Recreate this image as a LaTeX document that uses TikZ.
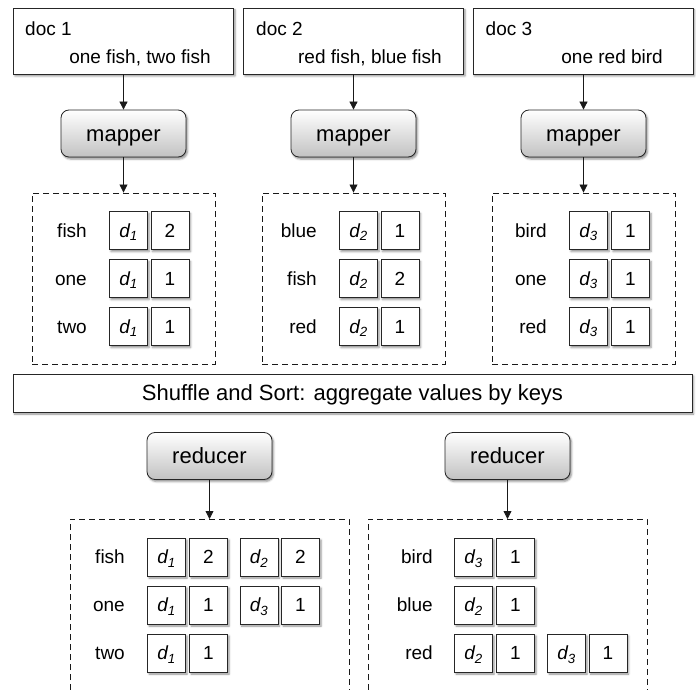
\documentclass[tikz,border=0pt]{standalone}
\usepackage{fontspec}
\setmainfont{Liberation Sans}
\usetikzlibrary{arrows.meta,shadows.blur}

\begin{document}
\begin{tikzpicture}[x=1pt,y=-1pt]
\tikzset{
	sh/.style={blur shadow={shadow xshift=1.5pt, shadow yshift=-2pt, shadow blur radius=2pt, shadow opacity=45}},
	txt/.style={inner sep=0pt, text height=13.7pt, text depth=0pt, font=\fontsize{19}{22}\selectfont},
	docbox/.style={draw=black!85, fill=white, line width=0.8pt, minimum width=220pt, minimum height=66pt, sh},
	worker/.style={draw=black!85, line width=0.8pt, rounded corners=8pt, top color=white, bottom color=black!24, minimum width=125pt, minimum height=47pt, text height=15.9pt, text depth=0pt, font=\fontsize{22}{26}\selectfont, sh},
	dbox/.style={draw=black!90, line width=0.9pt, dash pattern=on 6pt off 4pt},
	cell/.style={draw=black!85, fill=white, line width=0.8pt, minimum size=38pt, inner sep=0pt, text height=13.7pt, text depth=0pt, font=\fontsize{19}{22}\selectfont, sh},
	lab/.style={txt, anchor=east},
	arr/.style={-{Triangle[length=8pt,width=8pt]}, line width=0.8pt, black!90}
}
\useasboundingbox (0,0) rectangle (696,690);

% docs
\node[docbox] (doc_1) at (123.5,41) {};
\node[docbox] (doc_2) at (353.5,41) {};
\node[docbox] (doc_3) at (583,41) {};
\node[txt, anchor=west] (doc_1t) at (25,28.5) {doc 1};
\node[txt, anchor=east] (doc_1c) at (211,56.5) {one fish, two fish};
\node[txt, anchor=west] (doc_2t) at (256,28.5) {doc 2};
\node[txt, anchor=east] (doc_2c) at (442,56.5) {red fish, blue fish};
\node[txt, anchor=west] (doc_3t) at (485.5,28.5) {doc 3};
\node[txt, anchor=east] (doc_3c) at (663,56.5) {one red bird};

% mapper
\node[worker] (map_1) at (123.5,133.5) {mapper};
\node[worker] (map_2) at (353.5,133.5) {mapper};
\node[worker] (map_3) at (583.5,133.5) {mapper};

% mapper output
\node[dbox, minimum width=183pt, minimum height=171pt] (box_1) at (123.5,278.5) {};
\node[dbox, minimum width=183pt, minimum height=171pt] (box_2) at (353.5,278.5) {};
\node[dbox, minimum width=183pt, minimum height=171pt] (box_3) at (583.5,278.5) {};

\draw[arr] (doc_1) -- (map_1);
\draw[arr] (doc_2) -- (map_2);
\draw[arr] (doc_3.south -| map_3) -- (map_3);
\draw[arr] (map_1) -- (box_1);
\draw[arr] (map_2) -- (box_2);
\draw[arr] (map_3) -- (box_3);

% doc 1 -> (k, d, v)
\node[lab] (m1_1k) at (87,230.5) {fish};
\node[cell] (m1_1d) at (128.5,230.5) {\itshape d\textsubscript{1}};
\node[cell] (m1_1v) at (170,230.5) {2};
\node[lab] (m1_2k) at (87,278.5) {one};
\node[cell] (m1_2d) at (128.5,278.5) {\itshape d\textsubscript{1}};
\node[cell] (m1_2v) at (170,278.5) {1};
\node[lab] (m1_3k) at (87,326.5) {two};
\node[cell] (m1_3d) at (128.5,326.5) {\itshape d\textsubscript{1}};
\node[cell] (m1_3v) at (170,326.5) {1};

% doc 2 -> (k, d, v)
\node[lab] (m2_1k) at (317,230.5) {blue};
\node[cell] (m2_1d) at (358.5,230.5) {\itshape d\textsubscript{2}};
\node[cell] (m2_1v) at (400,230.5) {1};
\node[lab] (m2_2k) at (317,278.5) {fish};
\node[cell] (m2_2d) at (358.5,278.5) {\itshape d\textsubscript{2}};
\node[cell] (m2_2v) at (400,278.5) {2};
\node[lab] (m2_3k) at (317,326.5) {red};
\node[cell] (m2_3d) at (358.5,326.5) {\itshape d\textsubscript{2}};
\node[cell] (m2_3v) at (400,326.5) {1};

% doc 3 -> (k, d, v)
\node[lab] (m3_1k) at (547,230.5) {bird};
\node[cell] (m3_1d) at (588.5,230.5) {\itshape d\textsubscript{3}};
\node[cell] (m3_1v) at (630.5,230.5) {1};
\node[lab] (m3_2k) at (547,278.5) {one};
\node[cell] (m3_2d) at (588.5,278.5) {\itshape d\textsubscript{3}};
\node[cell] (m3_2v) at (630.5,278.5) {1};
\node[lab] (m3_3k) at (547,326.5) {red};
\node[cell] (m3_3d) at (588.5,326.5) {\itshape d\textsubscript{3}};
\node[cell] (m3_3v) at (630.5,326.5) {1};

% shuffle
\node[draw=black!85, fill=white, line width=0.8pt, minimum width=679pt, minimum height=38pt, text height=15.9pt, text depth=0pt, font=\fontsize{22}{26}\selectfont, sh] (shuf) at (352.5,393) {Shuffle and Sort: aggregate values by keys};

% reducer
\node[worker] (red_1) at (209.5,456) {reducer};
\node[worker] (red_2) at (507.5,456) {reducer};

\draw[dbox] (70,690) -- (70,519) -- (349,519) -- (349,690);
\draw[dbox] (368,690) -- (368,519) -- (647,519) -- (647,690);
\coordinate (rbox_1) at (209.5,519);
\coordinate (rbox_2) at (507.5,519);
\draw[arr] (red_1) -- (rbox_1);
\draw[arr] (red_2) -- (rbox_2);

% reducer 1
\node[lab] (r1_1k) at (125,557) {fish};
\node[cell] (r1_1d) at (166.5,557) {\itshape d\textsubscript{1}};
\node[cell] (r1_1v) at (208.5,557) {2};
\node[cell] (r1_1e) at (259,557) {\itshape d\textsubscript{2}};
\node[cell] (r1_1w) at (300.5,557) {2};
\node[lab] (r1_2k) at (125,605) {one};
\node[cell] (r1_2d) at (166.5,605) {\itshape d\textsubscript{1}};
\node[cell] (r1_2v) at (208.5,605) {1};
\node[cell] (r1_2e) at (259,605) {\itshape d\textsubscript{3}};
\node[cell] (r1_2w) at (300.5,605) {1};
\node[lab] (r1_3k) at (125,653) {two};
\node[cell] (r1_3d) at (166.5,653) {\itshape d\textsubscript{1}};
\node[cell] (r1_3v) at (208.5,653) {1};

% reducer 2
\node[lab] (r2_1k) at (433,557) {bird};
\node[cell] (r2_1d) at (473.5,557) {\itshape d\textsubscript{3}};
\node[cell] (r2_1v) at (515.5,557) {1};
\node[lab] (r2_2k) at (433,605) {blue};
\node[cell] (r2_2d) at (473.5,605) {\itshape d\textsubscript{2}};
\node[cell] (r2_2v) at (515.5,605) {1};
\node[lab] (r2_3k) at (433,653) {red};
\node[cell] (r2_3d) at (473.5,653) {\itshape d\textsubscript{2}};
\node[cell] (r2_3v) at (515.5,653) {1};
\node[cell] (r2_3e) at (566.5,653) {\itshape d\textsubscript{3}};
\node[cell] (r2_3w) at (608,653) {1};

\end{tikzpicture}
\end{document}
